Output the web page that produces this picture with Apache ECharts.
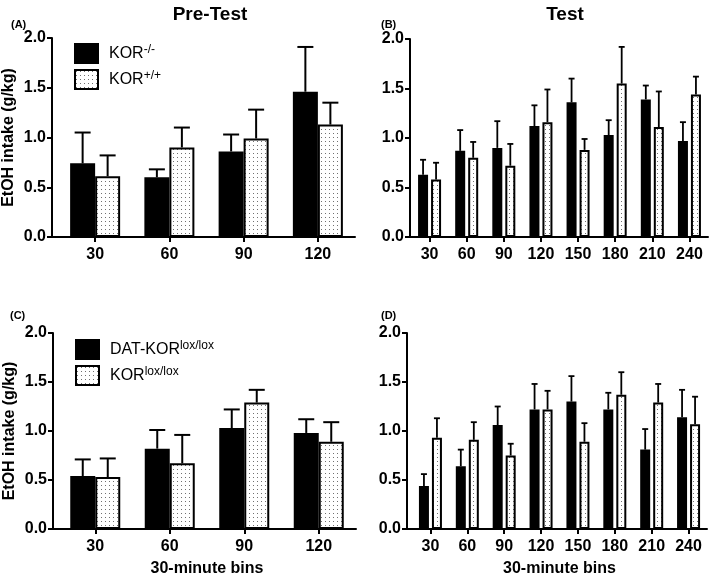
<!DOCTYPE html>
<html>
<head>
<meta charset="utf-8">
<script src="https://cdn.jsdelivr.net/npm/echarts@6/dist/echarts.min.js"></script>
<style>
html,body{margin:0;padding:0;background:#fff;}
#c{width:709px;height:578px;}
</style>
</head>
<body>
<div id="c"></div>
<script>
// ---- data ----
const cats4 = ['30', '60', '90', '120'];
const cats8 = ['30', '60', '90', '120', '150', '180', '210', '240'];
const yTicks = [0, 0.5, 1.0, 1.5, 2.0];

// Panel A (Pre-Test, KOR)
const aKO = [0.74, 0.60, 0.86, 1.46];
const aKOerr = [0.31, 0.08, 0.17, 0.45];
const aWT = [0.61, 0.90, 0.99, 1.13];
const aWTerr = [0.21, 0.20, 0.29, 0.22];
// Panel B (Test, KOR)
const bKO = [0.63, 0.87, 0.90, 1.12, 1.36, 1.03, 1.39, 0.97];
const bKOerr = [0.15, 0.21, 0.27, 0.21, 0.24, 0.15, 0.14, 0.19];
const bWT = [0.58, 0.80, 0.72, 1.16, 0.88, 1.55, 1.11, 1.44];
const bWTerr = [0.17, 0.16, 0.22, 0.33, 0.11, 0.37, 0.36, 0.18];
// Panel C (Pre-Test, DAT-KOR)
const cDAT = [0.54, 0.82, 1.03, 0.98];
const cDATerr = [0.17, 0.19, 0.19, 0.14];
const cLOX = [0.53, 0.67, 1.29, 0.89];
const cLOXerr = [0.19, 0.29, 0.13, 0.20];
// Panel D (Test, DAT-KOR)
const dDAT = [0.44, 0.64, 1.06, 1.22, 1.30, 1.22, 0.81, 1.14];
const dDATerr = [0.12, 0.17, 0.19, 0.26, 0.26, 0.17, 0.21, 0.28];
const dLOX = [0.93, 0.91, 0.75, 1.22, 0.89, 1.37, 1.29, 1.07];
const dLOXerr = [0.20, 0.18, 0.12, 0.19, 0.19, 0.23, 0.19, 0.28];

const names = {
  ko: 'KOR-/-', wt: 'KOR+/+', dat: 'DAT-KORlox/lox', lox: 'KORlox/lox'
};
const richNames = {
  'KOR-/-': '{n|KOR}{s|-/-}',
  'KOR+/+': '{n|KOR}{s|+/+}',
  'DAT-KORlox/lox': '{n|DAT-KOR}{s|lox/lox}',
  'KORlox/lox': '{n|KOR}{s|lox/lox}'
};

// ---- styles ----
const FONT = '"Liberation Sans", Arial, Helvetica, sans-serif';
function dots() {
  const c = document.createElement('canvas');
  c.width = 4; c.height = 4;
  const g = c.getContext('2d');
  g.fillStyle = '#ffffff'; g.fillRect(0, 0, 4, 4);
  g.fillStyle = '#707070'; g.fillRect(1, 1, 1, 1);
  return c;
}
const dotFill = { image: dots(), repeat: 'repeat' };
const blackStyle = { color: '#000', borderColor: '#000', borderWidth: 2 };
const dotStyle = { color: dotFill, borderColor: '#000', borderWidth: 2 };

const chart = echarts.init(document.getElementById('c'), null, { renderer: 'canvas' });

const panels = [
  { left: 58, top: 38, width: 297, height: 199, yOff: 6, cats: cats4, bw: 25, gap: 0, cap: 16, lw: 2,
    s1: aKO, e1: aKOerr, s2: aWT, e2: aWTerr, n1: names.ko, n2: names.wt, yName: true, xName: false },
  { left: 411, top: 39, width: 297, height: 198, yOff: 1, cats: cats8, bw: 10, gap: 3, cap: 6, lw: 1.8,
    s1: bKO, e1: bKOerr, s2: bWT, e2: bWTerr, n1: names.ko, n2: names.wt, yName: false, xName: false },
  { left: 58, top: 333, width: 298, height: 199, yOff: 5, cats: cats4, bw: 25, gap: 0, cap: 16, lw: 2,
    s1: cDAT, e1: cDATerr, s2: cLOX, e2: cLOXerr, n1: names.dat, n2: names.lox, yName: true, xName: true },
  { left: 412, top: 333, width: 295, height: 199, yOff: 5, cats: cats8, bw: 10, gap: 3, cap: 6, lw: 1.8,
    s1: dDAT, e1: dDATerr, s2: dLOX, e2: dLOXerr, n1: names.dat, n2: names.lox, yName: false, xName: true }
];

const grids = [], xAxes = [], yAxes = [], series = [];
panels.forEach((p, i) => {
  grids.push({ left: p.left, top: p.top, width: p.width, height: p.height, containLabel: false });
  xAxes.push({
    type: 'category', gridIndex: i, data: p.cats,
    axisLine: { show: true, symbol: ['rect', 'none'], symbolSize: [2, 2 * p.yOff + 2], symbolOffset: [-p.yOff / 2 - 1, 0],
      lineStyle: { color: '#000', width: 2 } },
    axisTick: { show: true, alignWithLabel: true, length: 5, lineStyle: { color: '#000', width: 2 } },
    axisLabel: { color: '#000', fontFamily: FONT, fontWeight: 'bold', fontSize: 16, margin: 10 },
    splitLine: { show: false },
    name: p.xName ? '30-minute bins' : '',
    nameLocation: 'middle', nameGap: 32,
    nameTextStyle: { color: '#000', fontFamily: FONT, fontWeight: 'bold', fontSize: 16 }
  });
  yAxes.push({
    type: 'value', gridIndex: i, min: yTicks[0], max: yTicks[yTicks.length - 1], interval: 0.5,
    offset: p.yOff,
    axisLine: { show: true, lineStyle: { color: '#000', width: 2 } },
    axisTick: { show: true, length: 5, lineStyle: { color: '#000', width: 2 } },
    axisLabel: { color: '#000', fontFamily: FONT, fontWeight: 'bold', fontSize: 16, margin: 6,
      formatter: v => v.toFixed(1) },
    splitLine: { show: false },
    name: p.yName ? 'EtOH intake (g/kg)' : '',
    nameLocation: 'middle', nameGap: 35, nameRotate: 90,
    nameTextStyle: { color: '#000', fontFamily: FONT, fontWeight: 'bold', fontSize: 16 }
  });
  const barGap = (p.gap / p.bw * 100) + '%';
  series.push({
    type: 'bar', name: p.n1, xAxisIndex: i, yAxisIndex: i, data: p.s1,
    barWidth: p.bw, barGap: barGap, itemStyle: blackStyle, silent: true, z: 2
  });
  series.push({
    type: 'bar', name: p.n2, xAxisIndex: i, yAxisIndex: i, data: p.s2,
    barWidth: p.bw, barGap: barGap, itemStyle: dotStyle, silent: true, z: 2
  });
  [[p.s1, p.e1, -1], [p.s2, p.e2, 1]].forEach(([vals, errs, side]) => {
    series.push({
      type: 'custom', xAxisIndex: i, yAxisIndex: i, silent: true, z: 3,
      data: vals.map((v, k) => [k, v, errs[k]]),
      renderItem: function (params, api) {
        const k = api.value(0), m = api.value(1), e = api.value(2);
        const base = api.coord([k, m]);
        const top = api.coord([k, m + e]);
        const x = base[0] + side * (p.bw + p.gap) / 2;
        const st = { stroke: '#000', lineWidth: p.lw };
        return {
          type: 'group',
          children: [
            { type: 'line', shape: { x1: x, y1: base[1], x2: x, y2: top[1] }, style: st },
            { type: 'line', shape: { x1: x - p.cap / 2, y1: top[1], x2: x + p.cap / 2, y2: top[1] }, style: st }
          ]
        };
      }
    });
  });
});

const legendText = {
  color: '#000', fontFamily: FONT, fontSize: 16, padding: [0, 0, 0, 6],
  rich: {
    n: { fontFamily: FONT, fontSize: 16, color: '#000', lineHeight: 20 },
    s: { fontFamily: FONT, fontSize: 12, color: '#000', verticalAlign: 'top', lineHeight: 12 }
  }
};

const option = {
  backgroundColor: '#fff',
  animation: false,
  title: [
    { text: 'Pre-Test', left: 205, top: 0, textAlign: 'center',
      textStyle: { fontFamily: FONT, fontWeight: 'bold', fontSize: 19, color: '#000' } },
    { text: 'Test', left: 560, top: 0, textAlign: 'center',
      textStyle: { fontFamily: FONT, fontWeight: 'bold', fontSize: 19, color: '#000' } },
    { text: '(A)', left: 6, top: 14, textStyle: { fontFamily: FONT, fontWeight: 'bold', fontSize: 11, color: '#000' } },
    { text: '(B)', left: 376, top: 14, textStyle: { fontFamily: FONT, fontWeight: 'bold', fontSize: 11, color: '#000' } },
    { text: '(C)', left: 5, top: 305, textStyle: { fontFamily: FONT, fontWeight: 'bold', fontSize: 11, color: '#000' } },
    { text: '(D)', left: 376, top: 305, textStyle: { fontFamily: FONT, fontWeight: 'bold', fontSize: 11, color: '#000' } }
  ],
  legend: [
    { data: [names.ko, names.wt], orient: 'vertical', left: 74, top: 43, itemWidth: 23, itemHeight: 19,
      itemGap: 5, icon: 'rect', selectedMode: false, padding: 0,
      formatter: n => richNames[n], textStyle: legendText },
    { data: [names.dat, names.lox], orient: 'vertical', left: 75, top: 339, itemWidth: 23, itemHeight: 19,
      itemGap: 5, icon: 'rect', selectedMode: false, padding: 0,
      formatter: n => richNames[n], textStyle: legendText }
  ],
  grid: grids,
  xAxis: xAxes,
  yAxis: yAxes,
  series: series
};
chart.setOption(option);
</script>
</body>
</html>
